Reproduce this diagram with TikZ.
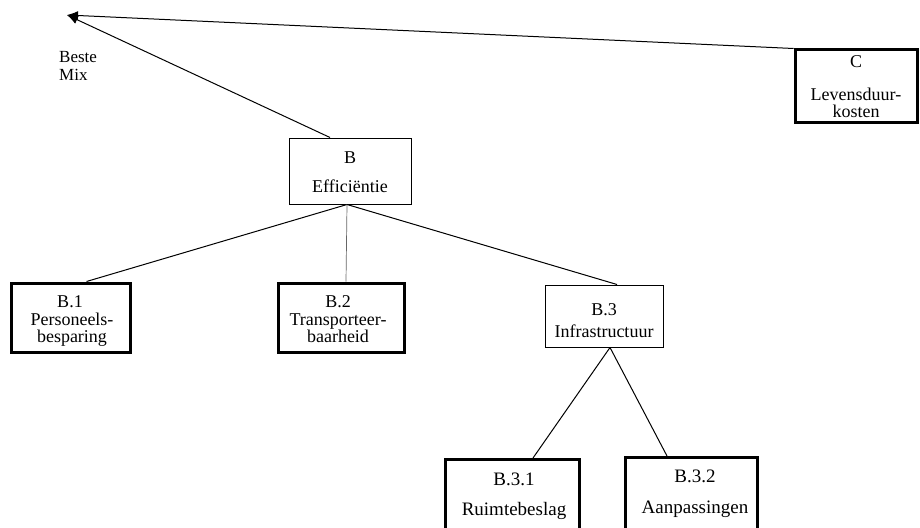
\documentclass[tikz,border=0pt]{standalone}
\usepackage{fontspec}
\setmainfont{Liberation Serif}
\usetikzlibrary{arrows.meta}
\begin{document}
\begin{tikzpicture}[x=1pt,y=-1pt,
  thickbox/.style={draw,line width=3pt,rectangle,inner sep=0pt},
  thinbox/.style={draw,line width=1pt,rectangle,inner sep=0pt},
  txt/.style={anchor=base,inner sep=0pt,font=\fontsize{18}{18}\selectfont},
  bigtxt/.style={anchor=base,inner sep=0pt,font=\fontsize{19}{19}\selectfont},
  link/.style={line width=1pt},
  faint/.style={line width=0.7pt,black!60}]
\useasboundingbox (0,0) rectangle (920,527);
\clip (0,0) rectangle (920,527);
\coordinate (tip) at (67,15);
% boxes
\node[thickbox,minimum width=122pt,minimum height=72pt] (C) at (856,86) {};
\node[thinbox,minimum width=122pt,minimum height=66pt] (B) at (350,171) {};
\node[thickbox,minimum width=119pt,minimum height=69pt] (B1) at (70.5,317.5) {};
\node[thickbox,minimum width=126pt,minimum height=69pt] (B2) at (341,317.5) {};
\node[thinbox,minimum width=118pt,minimum height=62pt] (B3) at (604,316) {};
\node[thickbox,minimum width=134pt,minimum height=80pt,anchor=north] (B31) at (512,458) {};
\node[thickbox,minimum width=132pt,minimum height=80pt,anchor=north] (B32) at (691,456) {};
% texts
\node[txt] (Ct1) at (856,67) {C};
\node[txt] (Ct2) at (856,100) {Levensduur-};
\node[txt] (Ct3) at (856,117) {kosten};
\node[txt] (Bt1) at (350,163) {B};
\node[txt] (Bt2) at (350,192) {Efficiëntie};
\node[txt] (B1t1) at (70,307) {B.1};
\node[txt] (B1t2) at (72,325) {Personeels-};
\node[txt] (B1t3) at (72,342) {besparing};
\node[txt] (B2t1) at (338,307) {B.2};
\node[txt] (B2t2) at (338,325) {Transporteer-};
\node[txt] (B2t3) at (338,342) {baarheid};
\node[txt] (B3t1) at (604,315) {B.3};
\node[txt] (B3t2) at (604,337) {Infrastructuur};
\node[bigtxt] (B31t1) at (514,485) {B.3.1};
\node[bigtxt] (B31t2) at (514,515) {Ruimtebeslag};
\node[bigtxt] (B32t1) at (695,482) {B.3.2};
\node[bigtxt] (B32t2) at (695,513) {Aanpassingen};
\node[anchor=base west,inner sep=0pt,font=\fontsize{17}{17}\selectfont] (mix1) at (59,63) {Beste};
\node[anchor=base west,inner sep=0pt,font=\fontsize{17}{17}\selectfont] (mix2) at (59,80) {Mix};
% connectors
\draw[link,-{Latex[length=11pt,width=9pt]}] (C.north west) -- (tip);
\draw[link,-{Latex[length=11pt,width=9pt]}] ([xshift=-20pt]B.north) -- (tip);
\draw[link] ([xshift=-3pt]B.south) -- ([xshift=16pt]B1.north);
\draw[faint] ([xshift=-3pt]B.south) -- ([xshift=5pt]B2.north);
\draw[link] ([xshift=-3pt]B.south) -- ([xshift=13pt]B3.north);
\draw[link] ([xshift=6pt]B3.south) -- ([xshift=21pt]B31.north);
\draw[link] ([xshift=6pt]B3.south) -- ([xshift=-24pt]B32.north);
\end{tikzpicture}
\end{document}
